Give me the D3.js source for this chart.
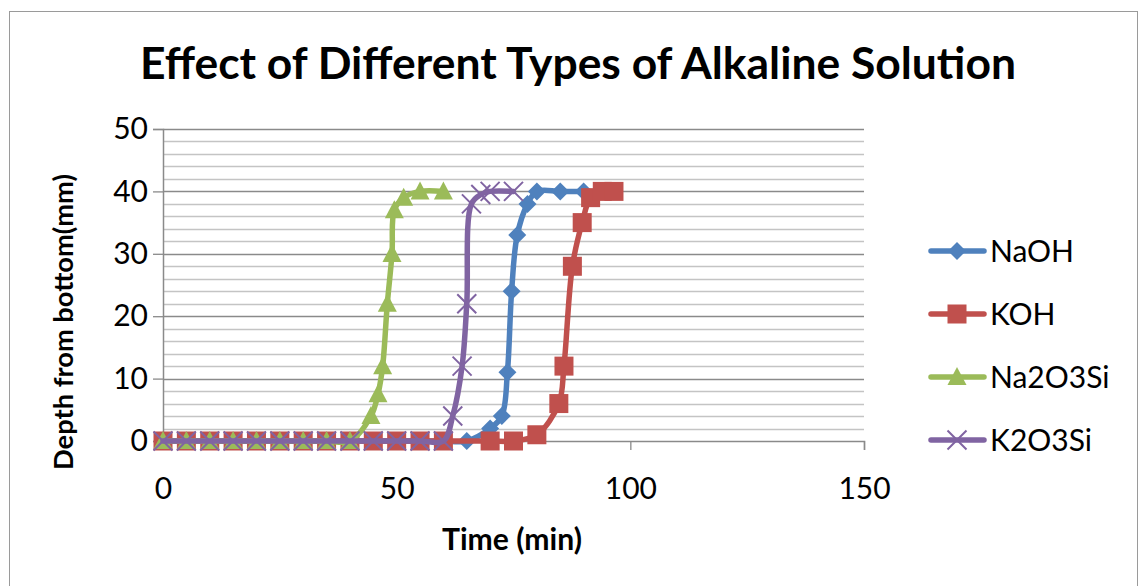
<!DOCTYPE html>
<html>
<head>
<meta charset="utf-8">
<script src="https://cdn.jsdelivr.net/npm/d3@7"></script>
<style>
  html, body { margin: 0; padding: 0; background: #fff; }
  svg { display: block; }
  text { font-family: Lato, "Open Sans", "Liberation Sans", sans-serif; fill: #000; }
</style>
</head>
<body>
<svg id="chart" width="1146" height="586"></svg>
<script>
// Time (min) and depth from bottom (mm) for each alkaline solution
const naohTime  = [0, 5, 10, 15, 20, 25, 30, 35, 40, 45, 50, 55, 60, 65, 70, 72.5, 73.7, 74.6, 75.8, 78, 80, 85, 90];
const naohDepth = [0, 0, 0, 0, 0, 0, 0, 0, 0, 0, 0, 0, 0, 0, 2, 4, 11, 24, 33, 38, 40, 40, 40];

const kohTime  = [0, 5, 10, 15, 20, 25, 30, 35, 40, 45, 50, 55, 60, 70, 75, 80, 84.7, 85.8, 87.6, 89.7, 91.5, 94, 96.5];
const kohDepth = [0, 0, 0, 0, 0, 0, 0, 0, 0, 0, 0, 0, 0, 0, 0, 1, 6, 12, 28, 35, 39, 40, 40];

const na2o3siTime  = [0, 5, 10, 15, 20, 25, 30, 35, 40, 44.5, 46, 47, 48, 49, 49.5, 51.5, 55, 60];
const na2o3siDepth = [0, 0, 0, 0, 0, 0, 0, 0, 0, 4, 7.5, 12, 22, 30, 37, 39, 40, 40];

const k2o3siTime  = [0, 5, 10, 15, 20, 25, 30, 35, 40, 45, 50, 55, 60, 62, 64, 65, 66, 68, 70, 75];
const k2o3siDepth = [0, 0, 0, 0, 0, 0, 0, 0, 0, 0, 0, 0, 0, 4, 12, 22, 38, 39.5, 40, 40];

const seriesNames  = ["NaOH", "KOH", "Na2O3Si", "K2O3Si"];
const seriesColors = ["#4F81BD", "#C0504D", "#9BBB59", "#8064A2"];
const seriesMarkers = ["diamond", "square", "triangle", "cross"];

const xTicks = [0, 50, 100, 150];
const yTicks = [0, 10, 20, 30, 40, 50];

const chartTitle = "Effect of Different Types of Alkaline Solution";
const xTitle = "Time (min)";
const yTitle = "Depth from bottom(mm)";

const series = [
  { name: seriesNames[0], color: seriesColors[0], marker: seriesMarkers[0], pts: d3.zip(naohTime, naohDepth) },
  { name: seriesNames[1], color: seriesColors[1], marker: seriesMarkers[1], pts: d3.zip(kohTime, kohDepth) },
  { name: seriesNames[2], color: seriesColors[2], marker: seriesMarkers[2], pts: d3.zip(na2o3siTime, na2o3siDepth) },
  { name: seriesNames[3], color: seriesColors[3], marker: seriesMarkers[3], pts: d3.zip(k2o3siTime, k2o3siDepth) }
];

const svg = d3.select("#chart");

// chart frame
svg.append("rect")
  .attr("x", 9.5).attr("y", 11.5)
  .attr("width", 1128).attr("height", 600)
  .attr("fill", "#fff").attr("stroke", "#9a9a9a").attr("stroke-width", 1);

const plot = { left: 163, right: 864, top: 129, bottom: 441 };

const x = d3.scaleLinear().domain([0, 150]).range([plot.left, plot.right]);
const y = d3.scaleLinear().domain([0, 50]).range([plot.bottom, plot.top]);

// minor gridlines every 2 mm
const minor = d3.range(2, 50, 2).filter(v => v % 10 !== 0);
svg.append("g").selectAll("line").data(minor).join("line")
  .attr("x1", plot.left).attr("x2", plot.right)
  .attr("y1", d => Math.round(y(d)) + 0.5).attr("y2", d => Math.round(y(d)) + 0.5)
  .attr("stroke", "#c4c4c4").attr("stroke-width", 1.3);

// major gridlines
svg.append("g").selectAll("line").data(yTicks.filter(v => v > 0)).join("line")
  .attr("x1", plot.left).attr("x2", plot.right)
  .attr("y1", d => Math.round(y(d)) + 0.5).attr("y2", d => Math.round(y(d)) + 0.5)
  .attr("stroke", "#8a8a8a").attr("stroke-width", 1.3);

// axes
const yAxis = d3.axisLeft(y).tickValues(yTicks).tickSize(10).tickPadding(5);
const gy = svg.append("g").attr("transform", `translate(${plot.left},0)`).call(yAxis);
gy.select(".domain").attr("stroke", "#8a8a8a").attr("stroke-width", 1.5);
gy.selectAll(".tick line").attr("stroke", "#8a8a8a").attr("stroke-width", 1.3);
gy.selectAll(".tick text").style("font-size", "30px").attr("font-family", "Lato, sans-serif").attr("fill", "#000");

const xAxis = d3.axisBottom(x).tickValues(xTicks).tickSize(9).tickPadding(28);
const gx = svg.append("g").attr("transform", `translate(0,${plot.bottom})`).call(xAxis);
gx.select(".domain").attr("stroke", "#8a8a8a").attr("stroke-width", 1.5);
gx.selectAll(".tick line").attr("stroke", "#8a8a8a").attr("stroke-width", 1.3);
gx.selectAll(".tick text").style("font-size", "30px").attr("font-family", "Lato, sans-serif").attr("fill", "#000");

// marker shapes
function drawMarker(g, type, color, size) {
  const s = size;
  if (type === "diamond") {
    g.append("path").attr("d", `M0,${-s}L${s},0L0,${s}L${-s},0Z`).attr("fill", color);
  } else if (type === "square") {
    g.append("rect").attr("x", -s).attr("y", -s).attr("width", 2 * s).attr("height", 2 * s).attr("fill", color);
  } else if (type === "triangle") {
    g.append("path").attr("d", `M0,${-s * 1.05}L${s},${s * 0.85}L${-s},${s * 0.85}Z`).attr("fill", color);
  } else if (type === "cross") {
    g.append("path").attr("d", `M${-s},${-s}L${s},${s}M${-s},${s}L${s},${-s}`)
      .attr("stroke", color).attr("stroke-width", 2).attr("fill", "none");
  }
}
const markerSize = { diamond: 9, square: 9.5, triangle: 9.5, cross: 9.5 };

const line = d3.line()
  .x(d => x(d[0])).y(d => y(d[1]))
  .curve(d3.curveCatmullRom.alpha(0.5));

series.forEach(s => {
  const g = svg.append("g");
  g.append("path").datum(s.pts)
    .attr("d", line)
    .attr("fill", "none")
    .attr("stroke", s.color)
    .attr("stroke-width", 5.5)
    .attr("stroke-linejoin", "round")
    .attr("stroke-linecap", "round");
  g.selectAll("g.pt").data(s.pts).join("g")
    .attr("class", "pt")
    .attr("transform", d => `translate(${x(d[0])},${y(d[1])})`)
    .each(function () { drawMarker(d3.select(this), s.marker, s.color, markerSize[s.marker]); });
});

// fit a text element to a target width by scaling its font size
function fitText(sel, width) {
  const node = sel.node();
  const fs = parseFloat(sel.style("font-size"));
  const w = node.getComputedTextLength();
  sel.style("font-size", (fs * width / w).toFixed(2) + "px");
}

// title
const t = svg.append("text")
  .attr("x", 578).attr("y", 79)
  .attr("text-anchor", "middle")
  .style("font-size", "40px").style("font-weight", "bold")
  .text(chartTitle);
fitText(t, 876);

// axis titles
const xt = svg.append("text")
  .attr("x", 512).attr("y", 550)
  .attr("text-anchor", "middle")
  .style("font-size", "22px").style("font-weight", "bold")
  .text(xTitle);
fitText(xt, 140);

const yt = svg.append("text")
  .attr("transform", "translate(73,322) rotate(-90)")
  .attr("text-anchor", "middle")
  .style("font-size", "22px").style("font-weight", "bold")
  .text(yTitle);
fitText(yt, 296);

// legend
const legendY = d3.scalePoint().domain(seriesNames).range([251, 440]);
const legend = svg.append("g");
series.forEach(s => {
  const g = legend.append("g").attr("transform", `translate(0,${legendY(s.name)})`);
  g.append("line").attr("x1", 931).attr("x2", 984).attr("y1", 0).attr("y2", 0)
    .attr("stroke", s.color).attr("stroke-width", 5.5).attr("stroke-linecap", "round");
  const m = g.append("g").attr("transform", "translate(957,0)");
  drawMarker(m, s.marker, s.color, markerSize[s.marker]);
  g.append("text").attr("x", 990).attr("y", 0).attr("dy", "0.35em")
    .style("font-size", "30px").text(s.name);
});
</script>
</body>
</html>
